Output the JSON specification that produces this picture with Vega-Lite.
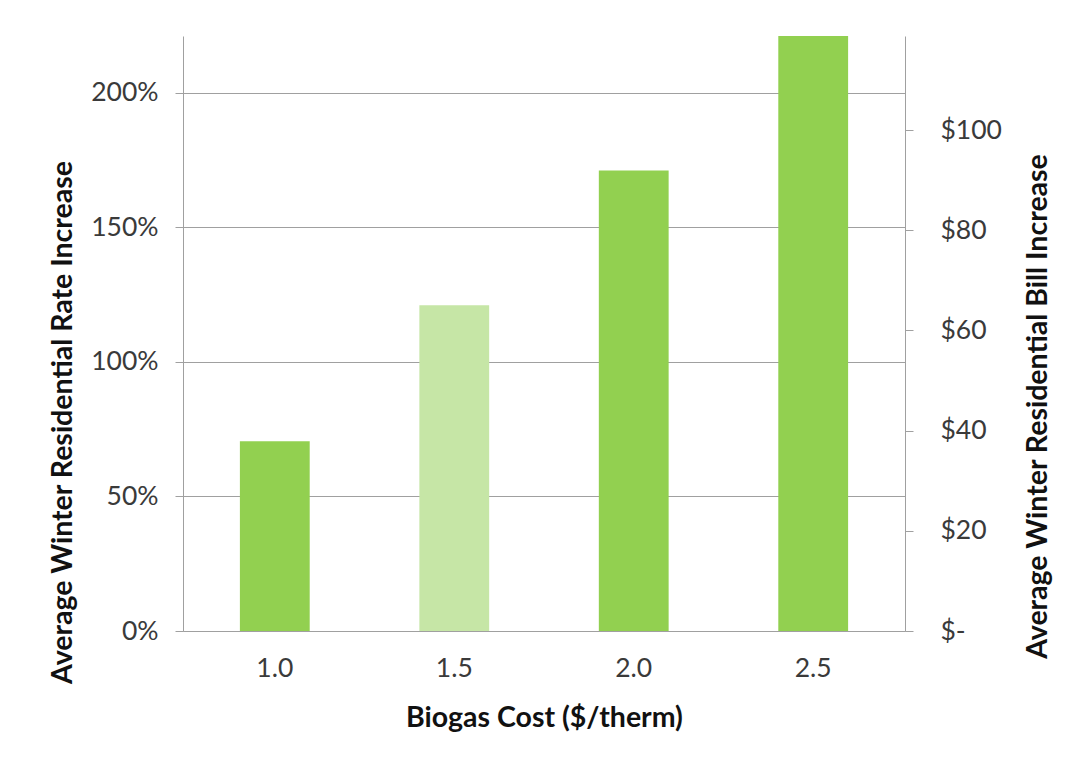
{
  "$schema": "https://vega.github.io/schema/vega-lite/v6.json",
  "width": 722,
  "height": 595,
  "autosize": {"type": "none"},
  "padding": {"left": 183, "top": 36, "right": 179, "bottom": 136},
  "background": "white",
  "config": {
    "view": {"stroke": null},
    "font": "Lato",
    "axis": {
      "domainColor": "#A0A0A0",
      "tickColor": "#A0A0A0",
      "gridColor": "#A0A0A0",
      "labelFont": "Lato",
      "labelFontSize": 26.5,
      "labelColor": "#3a3a3a",
      "titleFont": "Lato",
      "titleFontSize": 28.5,
      "titleFontWeight": "bold",
      "titleColor": "#111111"
    }
  },
  "data": {
    "values": [
      {"cost": "1.0", "rate": 0.705, "bill": 37.9, "fill": "solid"},
      {"cost": "1.5", "rate": 1.21, "bill": 65.0, "fill": "hatched"},
      {"cost": "2.0", "rate": 1.71, "bill": 91.9, "fill": "solid"},
      {"cost": "2.5", "rate": 2.21, "bill": 118.8, "fill": "solid"}
    ]
  },
  "encoding": {
    "x": {
      "field": "cost",
      "type": "ordinal",
      "sort": ["1.0", "1.5", "2.0", "2.5"],
      "scale": {"paddingInner": 0.611, "paddingOuter": 0.317},
      "axis": {
        "title": "Biogas Cost ($/therm)",
        "labelAngle": 0,
        "ticks": false,
        "tickSize": 0,
        "labelPadding": 24,
        "titleBaseline": "alphabetic",
        "titleY": 95,
        "domain": true
      }
    }
  },
  "layer": [
    {
      "mark": {"type": "bar"},
      "encoding": {
        "y": {
          "field": "rate",
          "type": "quantitative",
          "scale": {"domain": [0, 2.21], "nice": false},
          "axis": {
            "title": "Average Winter Residential Rate Increase",
            "values": [0, 0.5, 1, 1.5, 2],
            "format": ".0%",
            "grid": true,
            "tickSize": 8,
            "labelPadding": 17,
            "titleAngle": -90,
            "titleBaseline": "middle",
            "titleX": -121,
            "titleY": 386,
            "titleAlign": "center"
          }
        },
        "color": {
          "field": "fill",
          "type": "nominal",
          "scale": {"domain": ["solid", "hatched"], "range": ["#92D050", "#C6E6A6"]},
          "legend": null
        }
      }
    },
    {
      "mark": {"type": "bar", "opacity": 0},
      "encoding": {
        "y": {
          "field": "bill",
          "type": "quantitative",
          "scale": {"domain": [0, 118.8], "nice": false},
          "axis": {
            "orient": "right",
            "title": "Average Winter Residential Bill Increase",
            "values": [0, 20, 40, 60, 80, 100],
            "labelExpr": "datum.value == 0 ? '$-' : '$' + datum.value",
            "grid": false,
            "tickSize": 8,
            "labelPadding": 27,
            "titleAngle": -90,
            "titleBaseline": "middle",
            "titleX": 132,
            "titleY": 370,
            "titleAlign": "center"
          }
        }
      }
    }
  ],
  "resolve": {"scale": {"y": "independent"}}
}
